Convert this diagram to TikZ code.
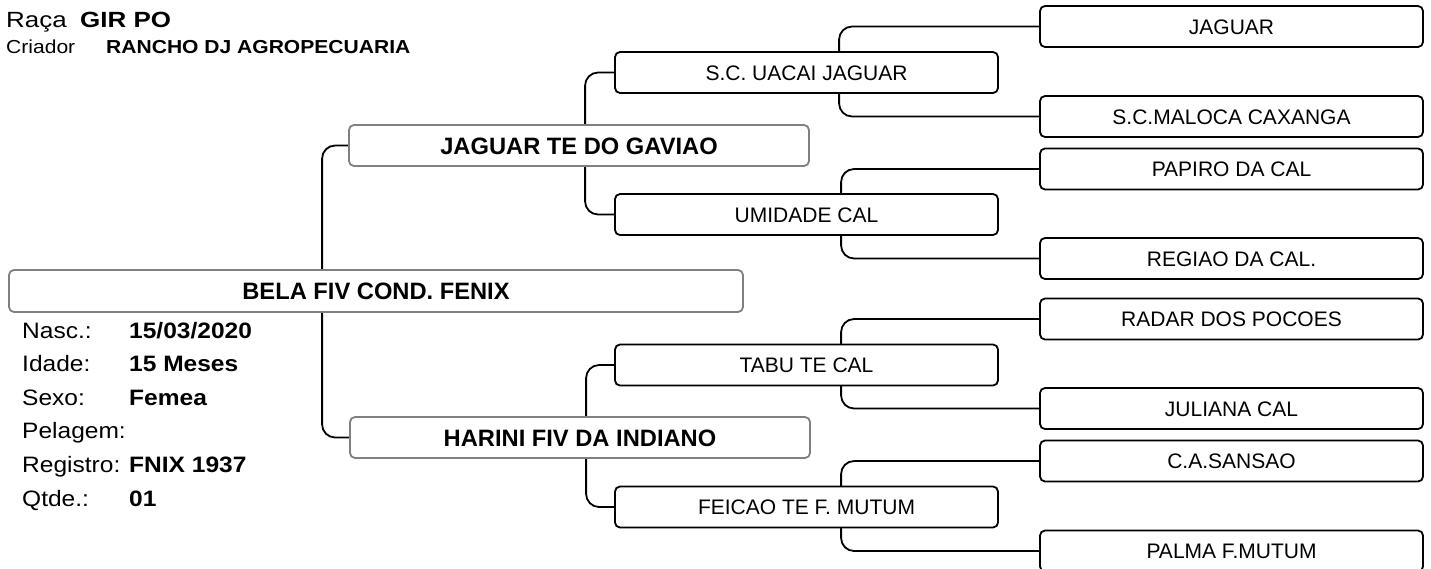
\documentclass[tikz,border=0pt]{standalone}
\usepackage{fontspec}
\setmainfont{Liberation Sans}
\newfontfamily\hdrA[FakeStretch=1.18]{Liberation Sans}
\newfontfamily\hdrB[FakeStretch=1.12]{Liberation Sans}
\newfontfamily\infof[FakeStretch=1.1]{Liberation Sans}
\usetikzlibrary{backgrounds}
\definecolor{boxgray}{HTML}{808080}
\tikzset{
  conn/.style={draw=black, line width=1.8pt, rounded corners=13pt},
  gbox/.style={draw=boxgray, line width=1.8pt, fill=white, rounded corners=5pt,
    inner sep=0pt, minimum height=41pt, text height=17pt, text depth=0pt,
    font=\fontsize{23.7pt}{28pt}\selectfont\bfseries},
  bbox/.style={draw=black, line width=1.8pt, fill=white, rounded corners=5pt,
    inner sep=0pt, minimum width=383pt, minimum height=41pt, text height=15pt, text depth=0pt,
    font=\fontsize{21pt}{25pt}\selectfont},
  hdrtxt/.style={anchor=base west, inner sep=0pt, font=\hdrA\fontsize{22pt}{26pt}\selectfont},
  hdrtxtb/.style={hdrtxt, font=\hdrA\fontsize{22pt}{26pt}\selectfont\bfseries},
  crtxt/.style={anchor=base west, inner sep=0pt, font=\hdrB\fontsize{18.8pt}{22pt}\selectfont},
  crtxtb/.style={crtxt, font=\hdrB\fontsize{18.8pt}{22pt}\selectfont\bfseries},
  inflab/.style={anchor=base west, inner sep=0pt, font=\infof\fontsize{22.3pt}{26pt}\selectfont},
  infval/.style={inflab, font=\infof\fontsize{22.3pt}{26pt}\selectfont\bfseries},
}
\begin{document}
\begin{tikzpicture}[x=1pt, y=-1pt]
\path[use as bounding box] (0,0) rectangle (1431,568);

% header
\node[hdrtxt]  (raca)    at (6,27) {Raça};
\node[hdrtxtb] (racav)   at (80,27) {GIR PO};
\node[crtxt]   (criador) at (6,53) {Criador};
\node[crtxtb]  (criadorv) at (106,53) {RANCHO DJ AGROPECUARIA};

% animal info
\node[inflab] (lnasc) at (22,338) {Nasc.:};
\node[infval] (vnasc) at (129,338) {15/03/2020};
\node[inflab] (lidade) at (22,371.6) {Idade:};
\node[infval] (vidade) at (129,371.6) {15 Meses};
\node[inflab] (lsexo) at (22,405.2) {Sexo:};
\node[infval] (vsexo) at (129,405.2) {Femea};
\node[inflab] (lpel) at (22,438.8) {Pelagem:};
\node[inflab] (lreg) at (22,472.4) {Registro:};
\node[infval] (vreg) at (129,472.4) {FNIX 1937};
\node[inflab] (lqtd) at (22,506) {Qtde.:};
\node[infval] (vqtd) at (129,506) {01};

% generation 0 and 1
\node[gbox, minimum width=734pt, minimum height=42pt] (main) at (376,291) {BELA FIV COND. FENIX};
\node[gbox, minimum width=460pt] (p) at (579,145.5) {JAGUAR TE DO GAVIAO};
\node[gbox, minimum width=460pt] (m) at (580,437.5) {HARINI FIV DA INDIANO};

% generation 2
\node[bbox] (pp) at (806.5,72.5) {S.C. UACAI JAGUAR};
\node[bbox] (pm) at (806.5,214.5) {UMIDADE CAL};
\node[bbox] (mp) at (806.5,365) {TABU TE CAL};
\node[bbox] (mm) at (806.5,507) {FEICAO TE F. MUTUM};

% generation 3
\node[bbox] (ppp) at (1231.5,26.5) {JAGUAR};
\node[bbox] (ppm) at (1231.5,116.5) {S.C.MALOCA CAXANGA};
\node[bbox] (pmp) at (1231.5,169) {PAPIRO DA CAL};
\node[bbox] (pmm) at (1231.5,258.5) {REGIAO DA CAL.};
\node[bbox] (mpp) at (1231.5,319) {RADAR DOS POCOES};
\node[bbox] (mpm) at (1231.5,408.5) {JULIANA CAL};
\node[bbox] (mmp) at (1231.5,461) {C.A.SANSAO};
\node[bbox] (mmm) at (1231.5,551) {PALMA F.MUTUM};

\begin{scope}[on background layer]
  \fill[white] (0,0) rectangle (1431,568);
  \draw[conn] (p.west) -- ++(-26,0) |- (m.west);
  \draw[conn] (pp.west) -- ++(-29,0) |- (pm.west);
  \draw[conn] (mp.west) -- ++(-28,0) |- (mm.west);
  \draw[conn] (ppp.west) -- ++(-200,0) |- (ppm.west);
  \draw[conn] (pmp.west) -- ++(-198,0) |- (pmm.west);
  \draw[conn] (mpp.west) -- ++(-198,0) |- (mpm.west);
  \draw[conn] (mmp.west) -- ++(-198,0) |- (mmm.west);
\end{scope}
\end{tikzpicture}
\end{document}
